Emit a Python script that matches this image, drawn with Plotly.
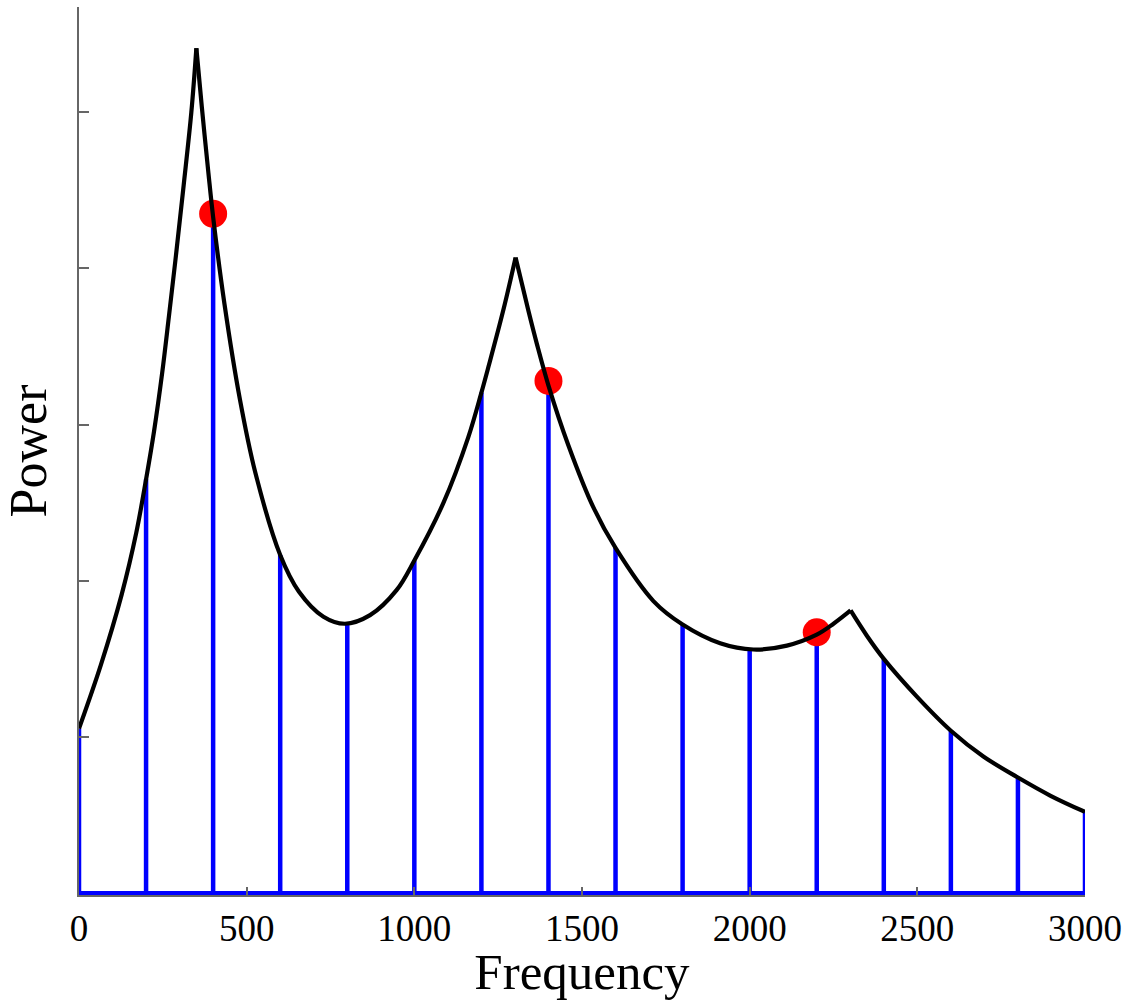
import plotly.graph_objects as go

# Envelope (spectral envelope), split at the three cusps
env_seg1_f = [0, 65, 127, 171, 200, 224, 248, 268, 290, 312, 335, 350]
env_seg1_p = [1.054, 1.46, 1.91, 2.31, 2.65, 2.96, 3.33, 3.69, 4.10, 4.53, 5.00, 5.41]
env_seg2_f = [350, 366, 386, 400, 434, 480, 525, 600, 656, 729, 793, 868, 947, 1000, 1087, 1161, 1200, 1221, 1265, 1302]
env_seg2_p = [5.41, 5.04, 4.61, 4.33, 3.77, 3.16, 2.70, 2.165, 1.93, 1.77, 1.725, 1.78, 1.94, 2.13, 2.50, 2.92, 3.205, 3.37, 3.73, 4.07]
env_seg3_f = [1302, 1340, 1365, 1400, 1459, 1534, 1600, 1713, 1800, 1912, 2011, 2111, 2200, 2250, 2301]
env_seg3_p = [4.07, 3.73, 3.52, 3.25, 2.87, 2.47, 2.21, 1.87, 1.72, 1.60, 1.56, 1.585, 1.655, 1.725, 1.81]
env_seg4_f = [2301, 2349, 2400, 2498, 2600, 2697, 2800, 2896, 3000]
env_seg4_p = [1.81, 1.65, 1.50, 1.26, 1.04, 0.875, 0.74, 0.625, 0.52]

# Harmonics (stems)
harm_freq = [0, 200, 400, 600, 800, 1000, 1200, 1400, 1600, 1800, 2000, 2200, 2400, 2600, 2800, 3000]
harm_power = [1.054, 2.65, 4.33, 2.165, 1.725, 2.13, 3.205, 3.25, 2.21, 1.72, 1.56, 1.655, 1.50, 1.04, 0.74, 0.52]

# Formant-nearest harmonics (red dots)
dot_freq = [400, 1400, 2200]
dot_power = [4.35, 3.28, 1.67]

x_ticks = [0, 500, 1000, 1500, 2000, 2500, 3000]
y_ticks = [1, 2, 3, 4, 5]

FONT = "Liberation Serif"

# Build stem path: baseline + verticals
stem_x, stem_y = [], []
for f, p in zip(harm_freq, harm_power):
    stem_x += [f, f, f]
    stem_y += [0, p, 0]

fig = go.Figure()
fig.add_trace(go.Scatter(x=stem_x, y=stem_y, mode="lines",
                         line=dict(color="#0000ff", width=4.5), hoverinfo="skip"))
fig.add_trace(go.Scatter(x=dot_freq, y=dot_power, mode="markers",
                         marker=dict(color="#ff0000", size=28, line=dict(width=0))))
for fs, ps in [(env_seg1_f, env_seg1_p), (env_seg2_f, env_seg2_p),
               (env_seg3_f, env_seg3_p), (env_seg4_f, env_seg4_p)]:
    fig.add_trace(go.Scatter(x=fs, y=ps, mode="lines",
                             line=dict(color="black", width=4.2, shape="spline", smoothing=1.0)))

fig.update_layout(
    width=1134, height=1000,
    margin=dict(l=79, r=49, t=7, b=105),
    plot_bgcolor="white", paper_bgcolor="white",
    showlegend=False,
    font=dict(family=FONT, color="black"),
)
fig.update_xaxes(
    range=[0, 3000], tickvals=x_ticks, ticktext=[str(v) for v in x_ticks],
    showgrid=False, zeroline=False, showline=True, linecolor="#666666", linewidth=1.5,
    ticks="inside", ticklen=8, tickcolor="#666666", tickwidth=1.5, automargin=False,
    tickfont=dict(family=FONT, size=37, color="black"), ticklabelstandoff=0,
    title=dict(text="Frequency", font=dict(family=FONT, size=51, color="black"), standoff=2),
)
fig.update_yaxes(
    range=[-0.012, 5.674], tickvals=y_ticks, showticklabels=False, automargin=False,
    showgrid=False, zeroline=False, showline=True, linecolor="#666666", linewidth=1.5,
    ticks="inside", ticklen=10, tickcolor="#666666", tickwidth=1.5,
    title=dict(text="Power", font=dict(family=FONT, size=52, color="black"), standoff=14),
)

fig.write_html("out.html")
